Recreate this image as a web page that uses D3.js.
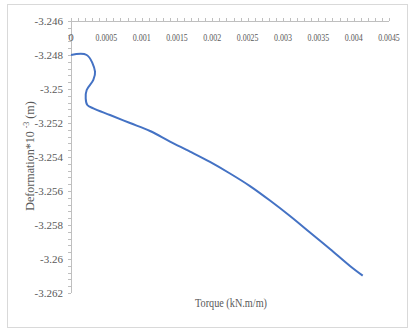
<!DOCTYPE html>
<html lang="en">
<head>
  <meta charset="UTF-8">
  <title>Deformation vs Torque</title>
  <script src="https://d3js.org/d3.v7.min.js"></script>
  <style>
    body { margin: 0; background: #fff; }
    svg { display: block; }
    text { font-family: "Liberation Serif", "DejaVu Serif", serif; }
    .tick-label { fill: #595959; font-size: 11px; }
    .title { fill: #595959; font-size: 12px; }
  </style>
</head>
<body>
  <svg id="chart" width="409" height="329"></svg>
  <script>
    // Torque (kN.m/m) and deformation*10^-3 (m)
    const torque = [0, 0.000222, 0.00034, 0.000316, 0.000222, 0.000208, 0.000231, 0.000316,
                    0.000552, 0.000835, 0.001118, 0.001401, 0.001684, 0.001967, 0.00225,
                    0.002533, 0.002816, 0.003099, 0.003382, 0.003665, 0.003948, 0.004128];
    const deformation = [-3.248, -3.248, -3.24898, -3.24947, -3.25006, -3.25055, -3.25094, -3.25114,
                         -3.25153, -3.252, -3.25247, -3.25309, -3.25368, -3.25429, -3.25497,
                         -3.25571, -3.25656, -3.25747, -3.25844, -3.25941, -3.26041, -3.26098];
    const xTicks = [0, 0.0005, 0.001, 0.0015, 0.002, 0.0025, 0.003, 0.0035, 0.004, 0.0045];
    const yTicks = [-3.246, -3.248, -3.25, -3.252, -3.254, -3.256, -3.258, -3.26, -3.262];

    const svg = d3.select("#chart");
    const axisColor = "#bfbfbf";

    // chart border
    svg.append("rect")
      .attr("x", 7.5).attr("y", 4.5)
      .attr("width", 400).attr("height", 323)
      .attr("fill", "none").attr("stroke", "#d9d9d9");

    const x = d3.scaleLinear().domain([0, 0.0045]).range([71, 389]);
    const y = d3.scaleLinear().domain([-3.246, -3.262]).range([21, 293]);

    // minor ticks (x: every 0.0001 pointing up, y: every 0.0004 pointing left)
    const xMinor = d3.range(0, 46).map(i => i * 0.0001);
    const yMinor = d3.range(0, 41).map(i => -3.246 - i * 0.0004);

    svg.append("g").selectAll("line")
      .data(xMinor).enter().append("line")
      .attr("x1", d => Math.round(x(d)) + 0.5).attr("x2", d => Math.round(x(d)) + 0.5)
      .attr("y1", y(-3.246)).attr("y2", y(-3.246) - 3)
      .attr("stroke", axisColor);

    svg.append("g").selectAll("line")
      .data(yMinor).enter().append("line")
      .attr("y1", d => Math.round(y(d)) + 0.5).attr("y2", d => Math.round(y(d)) + 0.5)
      .attr("x1", x(0)).attr("x2", x(0) - 3)
      .attr("stroke", axisColor);

    // axis lines
    svg.append("line")
      .attr("x1", x(0)).attr("x2", x(0.0045))
      .attr("y1", y(-3.246) + 0.5).attr("y2", y(-3.246) + 0.5)
      .attr("stroke", axisColor);
    svg.append("line")
      .attr("x1", x(0) + 0.5).attr("x2", x(0) + 0.5)
      .attr("y1", y(-3.246)).attr("y2", y(-3.262))
      .attr("stroke", axisColor);

    // tick labels (x labels are narrow in the original)
    svg.append("g").selectAll("text")
      .data(xTicks).enter().append("text")
      .attr("class", "tick-label")
      .attr("x", d => x(d))
      .attr("y", 41)
      .attr("text-anchor", "middle")
      .attr("textLength", d => d === 0 ? null : (String(d).length * 3.6))
      .attr("lengthAdjust", "spacingAndGlyphs")
      .text(d => String(d));

    svg.append("g").selectAll("text")
      .data(yTicks).enter().append("text")
      .attr("class", "tick-label")
      .attr("x", 63)
      .attr("y", d => y(d) + 4)
      .attr("text-anchor", "end")
      .text(d => String(d));

    // axis titles
    svg.append("text")
      .attr("class", "title")
      .attr("x", 231).attr("y", 307)
      .attr("text-anchor", "middle")
      .attr("textLength", 72)
      .attr("lengthAdjust", "spacingAndGlyphs")
      .text("Torque (kN.m/m)");

    const yTitle = svg.append("text")
      .attr("class", "title")
      .attr("transform", "translate(34,156) rotate(-90)")
      .attr("text-anchor", "middle");
    yTitle.append("tspan").text("Deformation*10 ");
    yTitle.append("tspan").attr("dy", -5).attr("font-size", "8px").text("-3");
    yTitle.append("tspan").attr("dy", 5).text(" (m)");

    // data line
    const pts = torque.map((t, i) => [t, deformation[i]]);
    svg.append("path")
      .datum(pts)
      .attr("fill", "none")
      .attr("stroke", "#4472c4")
      .attr("stroke-width", 2)
      .attr("d", d3.line()
        .x(d => x(d[0]))
        .y(d => y(d[1]))
        .curve(d3.curveCatmullRom.alpha(0.5)));
  </script>
</body>
</html>
